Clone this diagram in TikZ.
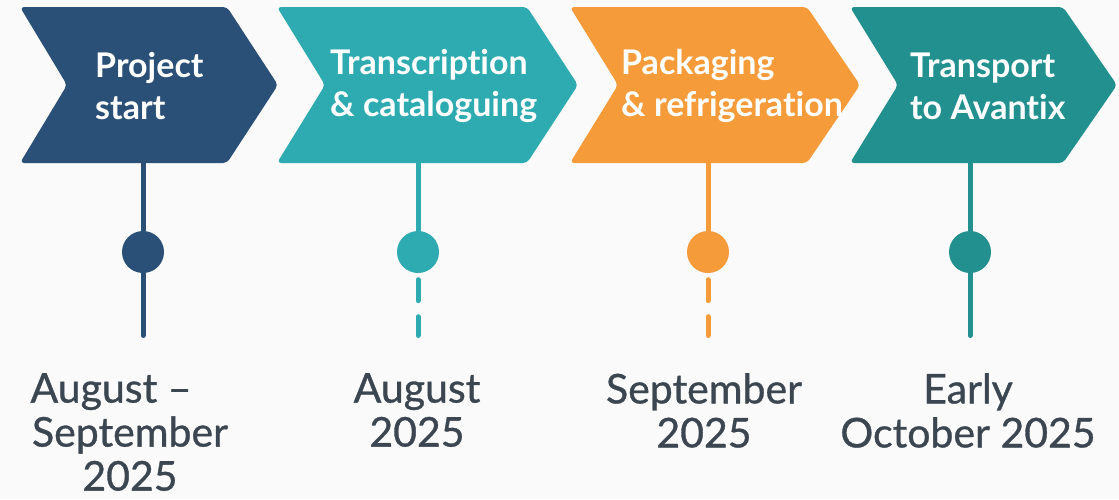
\documentclass[tikz,border=0pt]{standalone}
\usepackage{fontspec}
\setmainfont{Lato}[Ligatures={TeX,NoCommon}]
\usetikzlibrary{positioning}

\definecolor{bggrey}{HTML}{FAFAFA}
\definecolor{stepblue}{HTML}{2A5078}
\definecolor{stepteal}{HTML}{2EABB1}
\definecolor{steporange}{HTML}{F59B3A}
\definecolor{stepdark}{HTML}{21908E}
\definecolor{dategrey}{HTML}{3B4650}

\begin{document}
\begin{tikzpicture}[x=1pt,y=-1pt,
    chev/.style={fill=#1, rounded corners=4pt},
    lbl/.style={text=white, font=\bfseries\fontsize{34}{42}\selectfont, align=left, inner sep=0pt, anchor=west},
    dot/.style={circle, fill=#1, minimum size=42pt, inner sep=0pt},
    stem/.style={draw=#1, line width=5pt, line cap=round},
    when/.style={text=dategrey, font=\fontsize{41}{44}\selectfont\addfontfeature{FakeBold=0.8}, align=center, inner sep=0pt, anchor=north}]

\fill[bggrey] (0,0) rectangle (1119,499);

% chevrons
\foreach \xl/\xn/\xr/\xp/\c in {20/67/227/278/stepblue, 277/325/527/578/stepteal,
    570/618/807/860/steporange, 850/898/1063/1117/stepdark}
    \fill[chev=\c] (\xl,7) -- (\xr,7) -- (\xp,85) -- (\xr,163) -- (\xl,163) -- (\xn,85) -- cycle;

\node[lbl] (t1) at (95,86) {Project\\start};
\node[lbl] (t2) at (330,86) {Transcription\\\& cataloguing};
\node[lbl] (t3) at (621,86) {Packaging\\\& refrigeration};
\node[lbl] (t4) at (910,86) {Transport\\to Avantix};

% stems and dots
\foreach \i/\x/\c in {1/143/stepblue, 2/418/stepteal, 3/708/steporange, 4/970/stepdark} {
    \coordinate (top\i) at (\x,160);
    \node[dot=\c] (d\i) at (\x,252) {};
    \coordinate (end\i) at (\x,335.5);
    \draw[stem=\c] (top\i) -- (d\i);
}

\foreach \i/\c in {1/stepblue, 4/stepdark}
    \draw[stem=\c] (d\i) -- (end\i);

\foreach \i/\c in {2/stepteal, 3/steporange}
    \draw[stem=\c, dash pattern=on 21pt off 16pt] ([yshift=-6.5pt]d\i.south) -- (end\i);

% dates
\node[when] (w1) at (130,373) {August --\hspace*{38pt}\\September\\2025};
\node[when] (w2) at (417,373) {August\\2025};
\node[when] (w3) at (704,373) {September\\2025};
\node[when] (w4) at (968,373) {Early\\October 2025};

\end{tikzpicture}
\end{document}
